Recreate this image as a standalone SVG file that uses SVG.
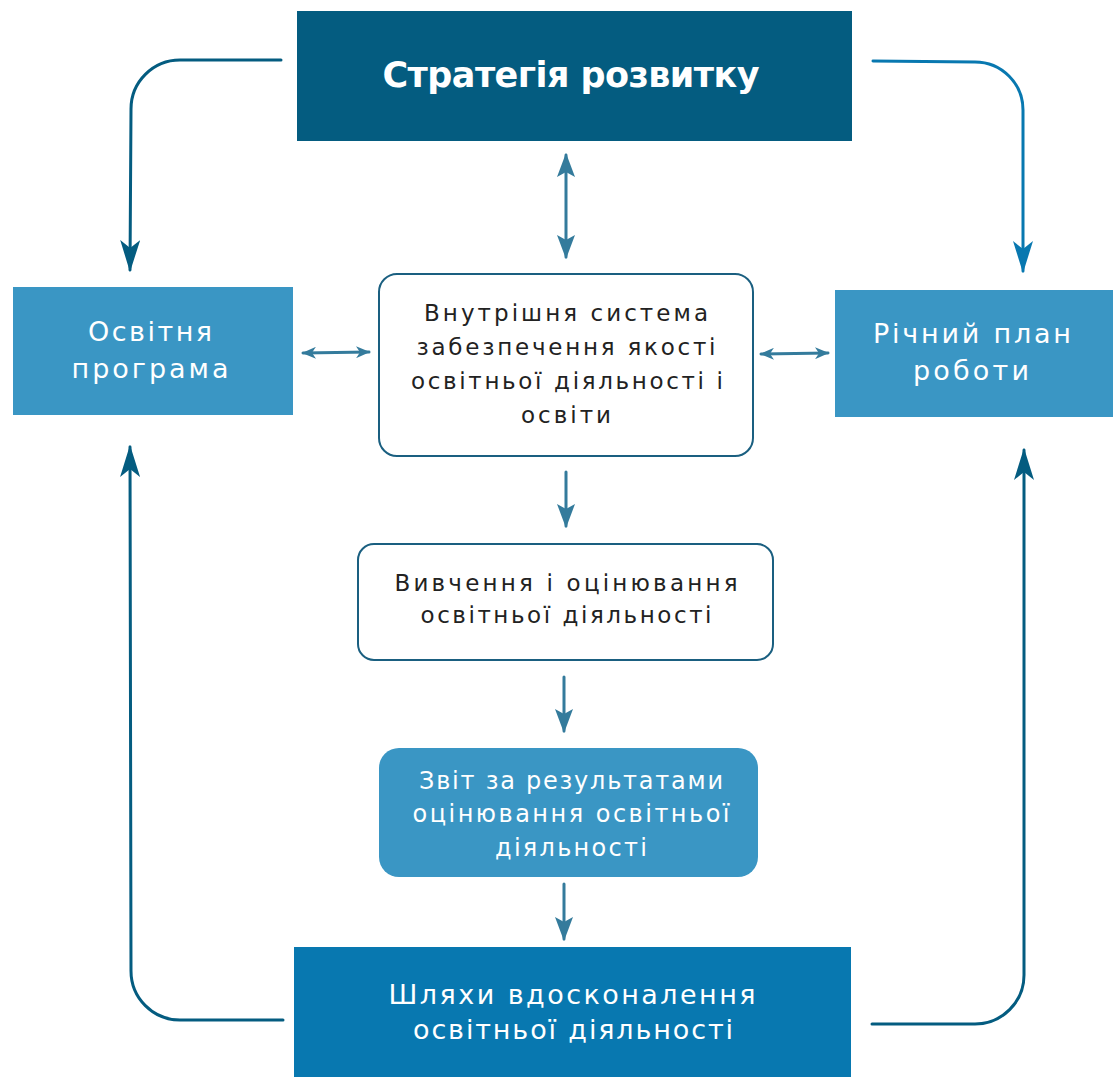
<svg xmlns="http://www.w3.org/2000/svg" width="1113" height="1078" viewBox="0 0 1113 1078">
<style>
.t{font-family:"DejaVu Sans","Noto Sans","Liberation Sans",sans-serif;text-anchor:middle}
.w{fill:#ffffff;font-size:27px}
.d{fill:#222222;font-size:23px}
.c{fill:none;stroke-width:3;stroke-linecap:round}
</style>
<defs>
<marker id="big1" viewBox="0 0 32 20" refX="30" refY="10" markerWidth="32" markerHeight="20" markerUnits="userSpaceOnUse" orient="auto-start-reverse"><path d="M0,0 L32,10 L0,20 L8,10 z" fill="#045c80"/></marker>
<marker id="big2" viewBox="0 0 32 20" refX="30" refY="10" markerWidth="32" markerHeight="20" markerUnits="userSpaceOnUse" orient="auto-start-reverse"><path d="M0,0 L32,10 L0,20 L8,10 z" fill="#0878b0"/></marker>
<marker id="mid" viewBox="0 0 24 18" refX="22" refY="9" markerWidth="24" markerHeight="18" markerUnits="userSpaceOnUse" orient="auto-start-reverse"><path d="M0,0 L24,9 L0,18 L5,9 z" fill="#347b9c"/></marker>
<marker id="sm" viewBox="0 0 14 12" refX="13" refY="6" markerWidth="14" markerHeight="12" markerUnits="userSpaceOnUse" orient="auto-start-reverse"><path d="M0,0 L14,6 L0,12 L4,6 z" fill="#347b9c"/></marker>
</defs>
<g id="connectors">
<path class="c" stroke="#045c80" d="M281,60 L180,60 A49,49 0 0 0 131,109 L130,270" marker-end="url(#big1)"/>
<path class="c" stroke="#0878b0" d="M873,61 L975,62 A48,48 0 0 1 1023,110 L1023,271" marker-end="url(#big2)"/>
<path class="c" stroke="#045c80" d="M283,1020 L180,1020 A49,49 0 0 1 131,971 L130,447" marker-end="url(#big1)"/>
<path class="c" stroke="#045c80" d="M872,1024 L975,1024 A49,49 0 0 0 1024,975 L1024,450" marker-end="url(#big1)"/>
<path class="c" stroke="#347b9c" stroke-width="3" d="M566,155 L566,257" marker-start="url(#mid)" marker-end="url(#mid)"/>
<path class="c" stroke="#347b9c" stroke-width="2" d="M303,353 L369,352" marker-start="url(#sm)" marker-end="url(#sm)"/>
<path class="c" stroke="#347b9c" stroke-width="2" d="M761,354 L828,353" marker-start="url(#sm)" marker-end="url(#sm)"/>
<path class="c" stroke="#347b9c" d="M566,472 L566,526" marker-end="url(#mid)"/>
<path class="c" stroke="#347b9c" d="M564,677 L564,731" marker-end="url(#mid)"/>
<path class="c" stroke="#347b9c" d="M564,884 L564,939" marker-end="url(#mid)"/>
</g>
<g id="strategy">
<rect x="297" y="11" width="555" height="130" fill="#045c80"/>
<text class="t" x="571" y="87" fill="#ffffff" font-size="35" font-weight="bold" textLength="377" lengthAdjust="spacing">Стратегія розвитку</text>
</g>
<g id="osvitnia">
<rect x="13" y="287" width="280" height="128" fill="#3a96c4"/>
<text class="t w" x="150" y="341" textLength="124" lengthAdjust="spacing">Освітня</text>
<text class="t w" x="150" y="378" textLength="157" lengthAdjust="spacing">програма</text>
</g>
<g id="richnyi">
<rect x="835" y="290" width="278" height="127" fill="#3a96c4"/>
<text class="t w" x="972" y="343" textLength="198" lengthAdjust="spacing">Річний план</text>
<text class="t w" x="971" y="380" textLength="116" lengthAdjust="spacing">роботи</text>
</g>
<g id="vnutrishnia">
<rect x="379" y="274" width="374" height="182" rx="18" fill="#ffffff" stroke="#1a5f80" stroke-width="2"/>
<text class="t d" x="566" y="321" textLength="284" lengthAdjust="spacing">Внутрішня система</text>
<text class="t d" x="566" y="355" textLength="299" lengthAdjust="spacing">забезпечення якості</text>
<text class="t d" x="567" y="389" textLength="312" lengthAdjust="spacing">освітньої діяльності і</text>
<text class="t d" x="566" y="423" textLength="90" lengthAdjust="spacing">освіти</text>
</g>
<g id="vyvchennia">
<rect x="358" y="544" width="415" height="116" rx="16" fill="#ffffff" stroke="#1a5f80" stroke-width="2"/>
<text class="t d" x="566" y="591" textLength="343" lengthAdjust="spacing">Вивчення і оцінювання</text>
<text class="t d" x="566" y="623" textLength="291" lengthAdjust="spacing">освітньої діяльності</text>
</g>
<g id="zvit">
<rect x="379" y="748" width="379" height="129" rx="20" fill="#3a96c4"/>
<text class="t" x="571" y="789" fill="#ffffff" font-size="24" textLength="304" lengthAdjust="spacing">Звіт за результатами</text>
<text class="t" x="571" y="822" fill="#ffffff" font-size="24" textLength="317" lengthAdjust="spacing">оцінювання освітньої</text>
<text class="t" x="571" y="856" fill="#ffffff" font-size="24" textLength="152" lengthAdjust="spacing">діяльності</text>
</g>
<g id="shliakhy">
<rect x="294" y="947" width="557" height="130" fill="#0878b0"/>
<text class="t w" x="572" y="1004" textLength="367" lengthAdjust="spacing">Шляхи вдосконалення</text>
<text class="t w" x="573" y="1039" textLength="320" lengthAdjust="spacing">освітньої діяльності</text>
</g>
</svg>
